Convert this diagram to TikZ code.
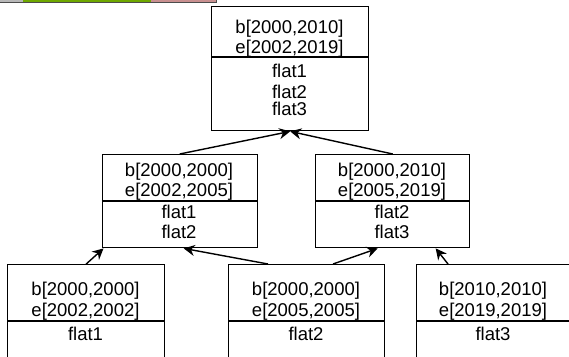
\documentclass[tikz,border=0pt]{standalone}
\usepackage{fontspec}
\setmainfont{Liberation Sans}
\usetikzlibrary{arrows.meta,calc}
\definecolor{bargray}{HTML}{B8B8B8}
\definecolor{bargreen}{HTML}{6FA800}
\definecolor{barpink}{HTML}{C99090}
\begin{document}
\begin{tikzpicture}[x=1pt,y=-1pt,
  box/.style={draw, line width=1.4pt, anchor=north west, inner sep=0pt},
  txt/.style={anchor=base, inner sep=0pt, font=\fontsize{18.5}{21}\selectfont},
  arr/.style={line width=1.4pt, -{Stealth[length=11pt,width=11pt]}},
  div/.style={line width=1.4pt}]
\useasboundingbox (0,0) rectangle (569,356);
\clip (0,0) rectangle (569,356);
% top colour strip
\fill[bargray] (0,-1) rectangle (23,1.8);
\fill[bargreen] (23,-1) rectangle (151,1.8);
\fill[barpink] (151,-1) rectangle (216,1.8);
\draw[black!70, line width=0.5pt] (0,1.8) -- (216,1.8) -- (216,-1);
% boxes
\node[box, minimum width=157pt, minimum height=124pt] (top) at (211,6) {};
\node[box, minimum width=155pt, minimum height=93pt] (ml) at (101.5,154) {};
\node[box, minimum width=154pt, minimum height=93pt] (mr) at (315,154) {};
\node[box, minimum width=157pt, minimum height=200pt] (bl) at (7,264) {};
\node[box, minimum width=156pt, minimum height=200pt] (bm) at (228,264) {};
\node[box, minimum width=156pt, minimum height=200pt] (br) at (416,264) {};
% dividers
\draw[div] ($(top.north west)+(0,51)$) -- ($(top.north east)+(0,51)$);
\draw[div] ($(ml.north west)+(0,47)$) -- ($(ml.north east)+(0,47)$);
\draw[div] ($(mr.north west)+(0,47)$) -- ($(mr.north east)+(0,47)$);
\draw[div] ($(bl.north west)+(0,57)$) -- ($(bl.north east)+(0,57)$);
\draw[div] ($(bm.north west)+(0,57)$) -- ($(bm.north east)+(0,57)$);
\draw[div] ($(br.north west)+(0,57)$) -- ($(br.north east)+(0,57)$);
% texts top
\node[txt] (t1) at (289.5,33.3) {b[2000,2010]};
\node[txt] (t2) at (289.5,53.3) {e[2002,2019]};
\node[txt] (t3) at (289.5,77.3) {flat1};
\node[txt] (t4) at (289.5,98.3) {flat2};
\node[txt] (t5) at (289.5,115.5) {flat3};
% middle left
\node[txt] (l1) at (179,176.7) {b[2000,2000]};
\node[txt] (l2) at (179,196) {e[2002,2005]};
\node[txt] (l3) at (179,218.3) {flat1};
\node[txt] (l4) at (179,238.3) {flat2};
% middle right
\node[txt] (r1) at (392,176.7) {b[2000,2010]};
\node[txt] (r2) at (392,196) {e[2005,2019]};
\node[txt] (r3) at (392,218.3) {flat2};
\node[txt] (r4) at (392,238.3) {flat3};
% bottom
\node[txt] (a1) at (85.5,295.3) {b[2000,2000]};
\node[txt] (a2) at (85.5,316) {e[2002,2002]};
\node[txt] (a3) at (85.5,340) {flat1};
\node[txt] (b1) at (306,295.3) {b[2000,2000]};
\node[txt] (b2) at (306,316) {e[2005,2005]};
\node[txt] (b3) at (306,340) {flat2};
\node[txt] (c1) at (493,295.3) {b[2010,2010]};
\node[txt] (c2) at (493,316) {e[2019,2019]};
\node[txt] (c3) at (493,340) {flat3};
% arrows
\draw[arr] (ml.north) -- (top.south);
\draw[arr] (mr.north) -- (top.south);
\draw[arr] (bl.north) -- ($(ml.south west)+(2,0)$);
\draw[arr] ($(bm.north west)+(40,0)$) -- ($(ml.south)+(4,0)$);
\draw[arr] ($(bm.north west)+(105,0)$) -- ($(mr.south)+(-15,0)$);
\draw[arr] ($(br.north west)+(32,0)$) -- ($(mr.south)+(43,0)$);
\end{tikzpicture}
\end{document}
